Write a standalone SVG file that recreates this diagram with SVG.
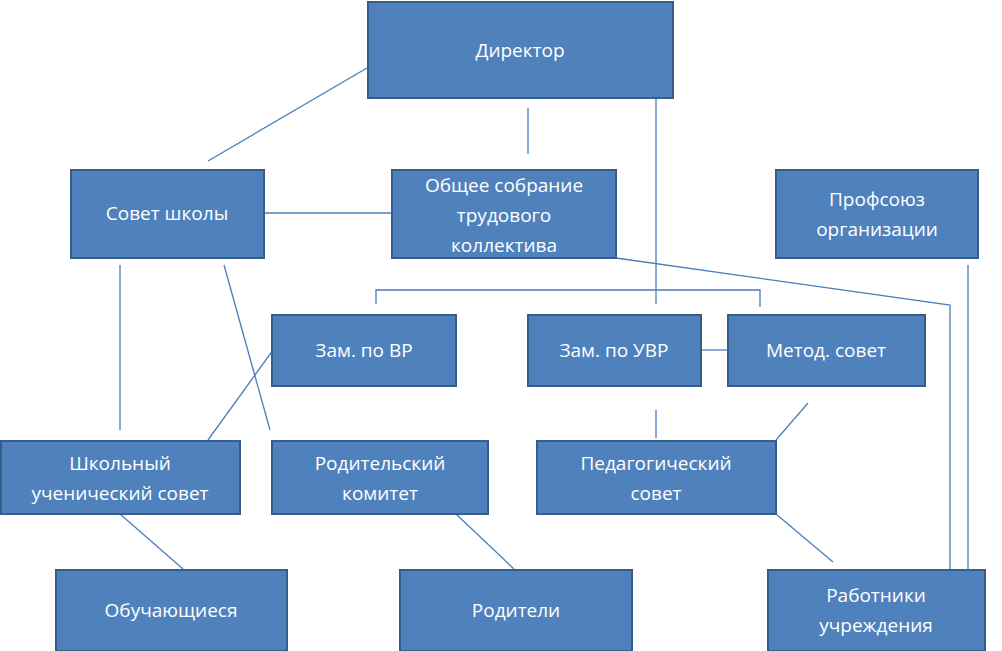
<svg xmlns="http://www.w3.org/2000/svg" width="1002" height="651" viewBox="0 0 1002 651">
<style>
.b{fill:#4F81BD;stroke:#385D8A;stroke-width:2}
.t{font-family:"Open Sans","Noto Sans",sans-serif;font-size:19px;fill:#fff;text-anchor:middle}
#c line,#c polyline{stroke:#4A7EBB;stroke-width:1.3;fill:none}
</style>
<rect width="1002" height="651" fill="#fff"/>
<g id="c">
<line x1="367" y1="68" x2="208" y2="161"/>
<line x1="528" y1="108" x2="528" y2="154"/>
<line x1="656" y1="98" x2="656" y2="304"/>
<line x1="264" y1="213" x2="391" y2="213"/>
<polyline points="616,258 950,305 950,569"/>
<line x1="968" y1="265" x2="968" y2="569"/>
<polyline points="376,304 376,290 760,290 760,307"/>
<line x1="120" y1="265" x2="120" y2="430"/>
<line x1="224" y1="265" x2="270" y2="430"/>
<line x1="273" y1="350" x2="208" y2="440"/>
<line x1="701" y1="350" x2="727" y2="350"/>
<line x1="656" y1="410" x2="656" y2="438"/>
<line x1="808" y1="403" x2="776" y2="440"/>
<line x1="120" y1="514" x2="183" y2="569"/>
<line x1="456" y1="514" x2="514" y2="569"/>
<line x1="776" y1="514" x2="833" y2="562"/>
</g>
<g id="n1"><rect class="b" x="368" y="2" width="305" height="96"/><text class="t" x="520" y="57">Директор</text></g>
<g id="n2"><rect class="b" x="71" y="170" width="193" height="88"/><text class="t" x="167" y="220">Совет школы</text></g>
<g id="n3"><rect class="b" x="392" y="170" width="224" height="88"/><text class="t" x="504" y="192">Общее собрание</text><text class="t" x="504" y="222">трудового</text><text class="t" x="504" y="252">коллектива</text></g>
<g id="n4"><rect class="b" x="776" y="170" width="202" height="88"/><text class="t" x="877" y="206">Профсоюз</text><text class="t" x="877" y="236">организации</text></g>
<g id="n5"><rect class="b" x="272" y="315" width="184" height="71"/><text class="t" x="364" y="357">Зам. по ВР</text></g>
<g id="n6"><rect class="b" x="528" y="315" width="173" height="71"/><text class="t" x="614" y="357">Зам. по УВР</text></g>
<g id="n7"><rect class="b" x="728" y="315" width="197" height="71"/><text class="t" x="826" y="357">Метод. совет</text></g>
<g id="n8"><rect class="b" x="1" y="441" width="239" height="73"/><text class="t" x="120" y="470">Школьный</text><text class="t" x="120" y="500">ученический совет</text></g>
<g id="n9"><rect class="b" x="272" y="441" width="216" height="73"/><text class="t" x="380" y="470">Родительский</text><text class="t" x="380" y="500">комитет</text></g>
<g id="n10"><rect class="b" x="537" y="441" width="239" height="73"/><text class="t" x="656" y="470">Педагогический</text><text class="t" x="656" y="500">совет</text></g>
<g id="n11"><rect class="b" x="56" y="570" width="231" height="81"/><text class="t" x="171" y="617">Обучающиеся</text></g>
<g id="n12"><rect class="b" x="400" y="570" width="232" height="81"/><text class="t" x="516" y="617">Родители</text></g>
<g id="n13"><rect class="b" x="768" y="570" width="217" height="81"/><text class="t" x="876" y="602">Работники</text><text class="t" x="876" y="632">учреждения</text></g>
</svg>
